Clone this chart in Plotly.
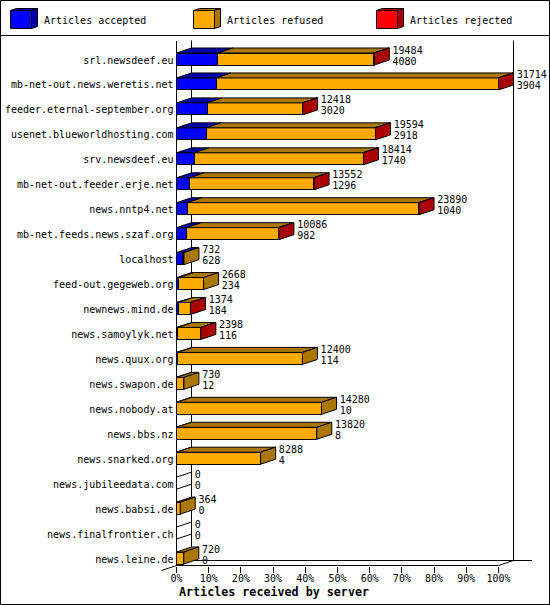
import plotly.graph_objects as go

servers = ["srl.newsdeef.eu", "mb-net-out.news.weretis.net", "feeder.eternal-september.org",
           "usenet.blueworldhosting.com", "srv.newsdeef.eu", "mb-net-out.feeder.erje.net",
           "news.nntp4.net", "mb-net.feeds.news.szaf.org", "localhost", "feed-out.gegeweb.org",
           "newnews.mind.de", "news.samoylyk.net", "news.quux.org", "news.swapon.de",
           "news.nobody.at", "news.bbs.nz", "news.snarked.org", "news.jubileedata.com",
           "news.babsi.de", "news.finalfrontier.ch", "news.leine.de"]
total = [19484, 31714, 12418, 19594, 18414, 13552, 23890, 10086, 732, 2668, 1374, 2398,
         12400, 730, 14280, 13820, 8288, 0, 364, 0, 720]
accepted = [4080, 3904, 3020, 2918, 1740, 1296, 1040, 982, 628, 234, 184, 116,
            114, 12, 10, 8, 4, 0, 0, 0, 0]
rejected = [40, 30, 20, 30, 30, 20, 40, 10, 0, 0, 10, 10, 0, 0, 0, 0, 0, 0, 0, 0, 0]
pct_ticks = [0, 10, 20, 30, 40, 50, 60, 70, 80, 90, 100]

BLUE, BLUE_D = "#0000ff", "#0000aa"
ORANGE, ORANGE_D = "#ffaa00", "#aa7700"
RED, RED_D = "#ff0000", "#aa0000"
FONT = "DejaVu Sans Mono"

W, H = 550, 605
X0, X1 = 176.5, 498.5    # pixels of 0% / 100%
X_END = 549.0            # axis runs on past 100% so the labels there are kept
Y_TOP, Y_BOT = 40.5, 565.5
ROW0, ROW_STEP = 59.0, 24.95
DX, DY = 15, 5           # 3d depth in pixels
BAR_H = 12

px_x = (X1 - X0) / 100
ymin = (Y_TOP - ROW0) / ROW_STEP
ymax = (Y_BOT - ROW0) / ROW_STEP
dx = DX / px_x
dy = DY / ROW_STEP
half = BAR_H / 2 / ROW_STEP
bar_w = BAR_H / ROW_STEP
big = max(total)
rows = list(range(len(servers)))


def pct(v):
    return v / big * 100


def px(x):
    return x / W


def py(y):
    return 1 - y / H


refused = [t - a - r for t, a, r in zip(total, accepted, rejected)]

fig = go.Figure()

# top faces and end faces
series = [(accepted, BLUE, BLUE_D), (refused, ORANGE, ORANGE_D), (rejected, RED, RED_D)]
starts = [0] * len(rows)
for n, (vals, col, dark) in enumerate(series):
    tx, ty, sx, sy = [], [], [], []
    for i in rows:
        a = pct(starts[i])
        b = pct(starts[i] + vals[i])
        top = i - half
        bot = i + half
        if vals[i] > 0:
            tx += [a, a + dx, b + dx, b, a, None]
            ty += [top, top - dy, top - dy, top, top, None]
        # end face belongs to the last series that has a value
        later = sum(s[0][i] for s in series[n + 1:])
        if vals[i] > 0 and later == 0:
            sx += [b, b + dx, b + dx, b, b, None]
            sy += [top, top - dy, bot - dy, bot, top, None]
    fig.add_trace(go.Scatter(x=tx, y=ty, mode="lines", fill="toself", fillcolor=dark,
                             line=dict(color="black", width=1), cliponaxis=False,
                             hoverinfo="skip", showlegend=False))
    fig.add_trace(go.Scatter(x=sx, y=sy, mode="lines", fill="toself", fillcolor=dark,
                             line=dict(color="black", width=1), cliponaxis=False,
                             hoverinfo="skip", showlegend=False))
    starts = [s + v for s, v in zip(starts, vals)]

# empty rows only show the two depth edges
ex, ey = [], []
for i in rows:
    if total[i] == 0:
        ex += [0, dx, None, 0, dx, None]
        ey += [i - half, i - half - dy, None, i + half, i + half - dy, None]
fig.add_trace(go.Scatter(x=ex, y=ey, mode="lines", line=dict(color="black", width=1),
                         cliponaxis=False, hoverinfo="skip", showlegend=False))

# front faces
for vals, col, dark in series:
    fig.add_trace(go.Bar(y=rows, x=[pct(v) for v in vals], orientation="h", width=bar_w,
                         marker=dict(color=col, line=dict(color="black", width=1)),
                         hoverinfo="skip", showlegend=False))

# value labels
lx = [pct(t) + dx + 1.0 for t in total]
fig.add_trace(go.Scatter(x=lx, y=[i - 8 / ROW_STEP for i in rows], mode="text",
                         text=[str(t) for t in total], textposition="middle right",
                         textfont=dict(family=FONT, size=10, color="black"),
                         cliponaxis=False, hoverinfo="skip", showlegend=False))
fig.add_trace(go.Scatter(x=lx, y=[i + 3 / ROW_STEP for i in rows], mode="text",
                         text=[str(a) for a in accepted], textposition="middle right",
                         textfont=dict(family=FONT, size=10, color="black"),
                         cliponaxis=False, hoverinfo="skip", showlegend=False))

shapes = []


def line(x0, y0, x1, y1):
    shapes.append(dict(type="line", xref="paper", yref="paper", x0=px(x0), y0=py(y0),
                       x1=px(x1), y1=py(y1), line=dict(color="black", width=1), layer="below"))


# 3d frame behind the bars
line(X0 + DX, Y_TOP, X0 + DX, Y_BOT - DY)
line(X1 + DX, Y_TOP, X1 + DX, Y_BOT - DY)
line(X0 + DX, Y_BOT - DY, 532, Y_BOT - DY)
line(X1, Y_BOT, X1 + DX, Y_BOT - DY)
line(X0 - DX, Y_BOT + DY, X0, Y_BOT)
line(X0, Y_BOT, X1, Y_BOT)
# page frame
shapes.append(dict(type="rect", xref="paper", yref="paper", x0=px(0.5), y0=py(0.5),
                   x1=px(549.5), y1=py(604.5), line=dict(color="black", width=1)))
line(0, 35.5, 550, 35.5)

# legend swatches
annotations = []
for lx0, col, dark, name in [(10.5, BLUE, BLUE_D, "Articles accepted"),
                             (193.5, ORANGE, ORANGE_D, "Articles refused"),
                             (376.5, RED, RED_D, "Articles rejected")]:
    fx, ty, by, d, e = lx0 + 21, 10.5, 28.5, 6, 2
    for pts, c in [([(lx0, ty), (lx0 + d, ty - e), (fx + d, ty - e), (fx, ty)], dark),
                   ([(fx, ty), (fx + d, ty - e), (fx + d, by - e), (fx, by)], dark),
                   ([(lx0, ty), (fx, ty), (fx, by), (lx0, by)], col)]:
        path = "M " + " L ".join(f"{px(a)} {py(b)}" for a, b in pts) + " Z"
        shapes.append(dict(type="path", xref="paper", yref="paper", path=path, fillcolor=c,
                           line=dict(color="black", width=1)))
    annotations.append(dict(text=name, xref="paper", yref="paper", x=px(lx0 + 31), y=py(20),
                            xanchor="left", yanchor="middle", showarrow=False,
                            font=dict(family=FONT, size=10, color="black")))

annotations.append(dict(text="<b>Articles received by server</b>", xref="paper", yref="paper",
                        x=px(274), y=py(592), xanchor="center", yanchor="middle", showarrow=False,
                        font=dict(family=FONT, size=11.7, color="black")))

fig.update_layout(
    width=W, height=H, margin=dict(l=0, r=0, t=0, b=0),
    paper_bgcolor="white", plot_bgcolor="rgba(0,0,0,0)",
    barmode="stack", bargap=0,
    shapes=shapes, annotations=annotations,
    xaxis=dict(domain=[px(X0), px(X_END)], range=[0, (X_END - X0) / px_x], tickvals=pct_ticks,
               ticktext=[f"{p}%" for p in pct_ticks], ticks="outside", ticklen=6, tickwidth=1,
               tickcolor="black", showline=False,
               showgrid=False, zeroline=False, automargin=False, ticklabelstandoff=-3,
               tickfont=dict(family=FONT, size=10, color="black")),
    yaxis=dict(domain=[py(Y_BOT), py(Y_TOP)], range=[ymax, ymin], tickvals=rows,
               ticktext=servers, ticks="", showline=True, linecolor="black", linewidth=1,
               showgrid=False, zeroline=False, automargin=False, ticklabelshift=-1,
               tickfont=dict(family=FONT, size=10, color="black")),
)

fig.write_html("out.html", config=dict(displayModeBar=False),
               post_script="document.body.style.margin='0';document.body.style.overflow='hidden';")
